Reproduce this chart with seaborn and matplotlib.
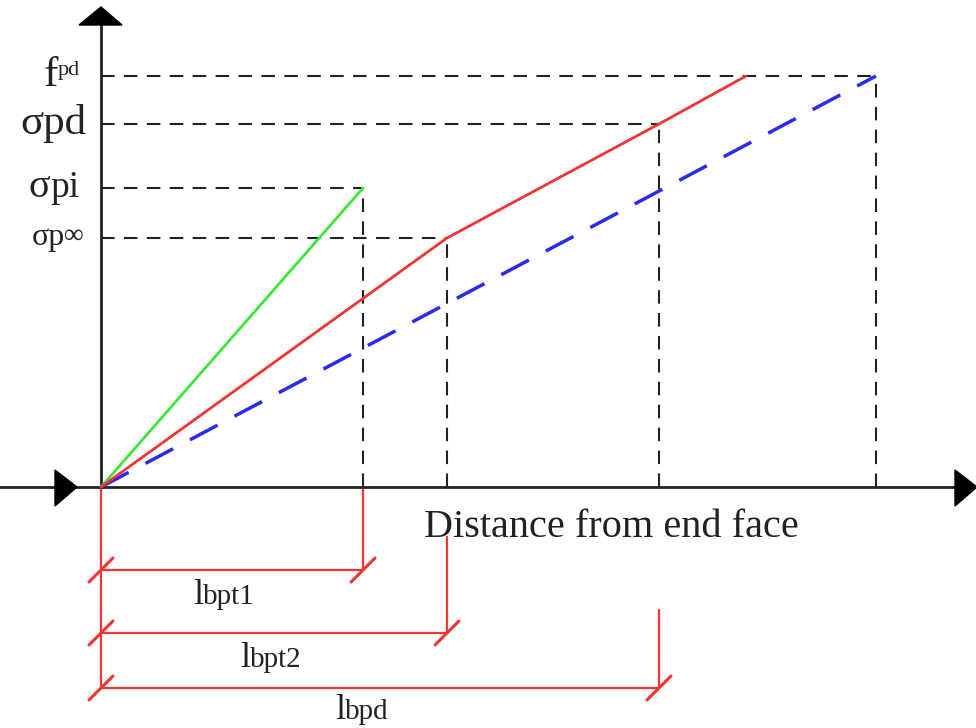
import matplotlib
matplotlib.use("Agg")
import matplotlib.pyplot as plt
import seaborn as sns
import pandas as pd

# ---- data (schematic units) ----
green_x = [0, 262]
green_y = [0, 299]
red_x = [0, 346, 558, 645]
red_y = [0, 249, 363, 411]
blue_x = [0, 775]
blue_y = [0, 411]

level_names = ["f", "σpd", "σpi", "σp"]
level_values = [411, 363, 299, 249]
level_reach = [775, 558, 262, 346]      # x where each guide line ends

dim_names = ["bpt1", "bpt2", "bpd"]
dim_lengths = [262, 346, 558]
xlabel = "Distance from end face"

sns.set_theme(style="white")
plt.rcParams['font.family'] = ['Liberation Serif', 'DejaVu Serif']

fig = plt.figure(figsize=(9.76, 7.28), dpi=100)
ax = fig.add_axes([0, 0, 1, 1])
ax.set_xlim(-101, 875)
ax.set_ylim(-241, 487)
ax.axis("off")

# guide dashed lines
for yv, xr in zip(level_values, level_reach):
    ax.plot([0, xr], [yv, yv], color="#222222", lw=1.5, ls=(0, (6.5, 4.5)), zorder=1)
for xv, yv in [(262, 299), (346, 249), (558, 363), (775, 411)]:
    ax.plot([xv, xv], [0, yv], color="#222222", lw=1.5, ls=(0, (6.5, 4.5)), zorder=1)

# axes
ax.plot([-101, 875], [0, 0], color="#222222", lw=2, zorder=3)
ax.plot([0, 0], [0, 470], color="#222222", lw=2, zorder=3)
ax.fill([-22, 21, 0], [462, 462, 480], color="black", zorder=4)
ax.fill([-46, -46, -24], [17, -19, 0], color="black", zorder=4)
ax.fill([854, 854, 876], [17, -19, 0], color="black", zorder=4, clip_on=False)

# curves
df_g = pd.DataFrame({"x": green_x, "y": green_y})
df_r = pd.DataFrame({"x": red_x, "y": red_y})
df_b = pd.DataFrame({"x": blue_x, "y": blue_y})
sns.lineplot(data=df_g, x="x", y="y", color="#3ce63c", lw=2, sort=False, ax=ax, zorder=5)
sns.lineplot(data=df_r, x="x", y="y", color="#f03535", lw=2, sort=False, ax=ax, zorder=5)
sns.lineplot(data=df_b, x="x", y="y", color="#2a2af0", lw=2.5, sort=False, ax=ax,
             linestyle=(0, (9, 5.5)), zorder=4)
ax.set_xlim(-101, 875)
ax.set_ylim(-241, 487)

# y labels
lab_kw = dict(color="#222222", va="baseline")
ax.text(-43, 487 - 86, "f", fontsize=31, ha="right", **lab_kw)
ax.text(-43, 487 - 75, "pd", fontsize=16, ha="left", **lab_kw)
ax.text(-14, 487 - 134, "σpd", fontsize=31, ha="right", **lab_kw)
ax.text(-51, 487 - 197, "σ", fontsize=29, ha="right", **lab_kw)
ax.text(-51, 487 - 197, "pi", fontsize=27, ha="left", **lab_kw)
ax.text(-36, 487 - 245, "σp", fontsize=23, ha="right", **lab_kw)
ax.text(-37, 487 - 236, "∞", fontsize=20, ha="left", color="#222222", va="center")

# x label
ax.text(323, 487 - 537, xlabel, fontsize=29, ha="left", va="baseline", color="#222222")

# dimension lines
red = "#f03535"
dim_y = [487 - 570, 487 - 633, 487 - 688]
dim_top = [0, 487 - 537, 487 - 610]
ax.plot([0, 0], [0, dim_y[-1]], color=red, lw=1.6)
for L, yv, yt in zip(dim_lengths, dim_y, dim_top):
    ax.plot([0, L], [yv, yv], color=red, lw=1.6)
    ax.plot([L, L], [yt, yv], color=red, lw=1.6)
    for xe in (0, L):
        ax.plot([xe - 12, xe + 12], [yv - 12, yv + 12], color=red, lw=2.2)

label_pos = [(102, 487 - 604), (149, 487 - 667), (244, 487 - 719)]
for name, (xp, yp) in zip(dim_names, label_pos):
    ax.text(xp, yp, "l", fontsize=26, ha="right", va="baseline", color="#222222")
    ax.text(xp, yp, name, fontsize=21, ha="left", va="baseline", color="#222222")

fig.savefig("out.png", dpi=100)
